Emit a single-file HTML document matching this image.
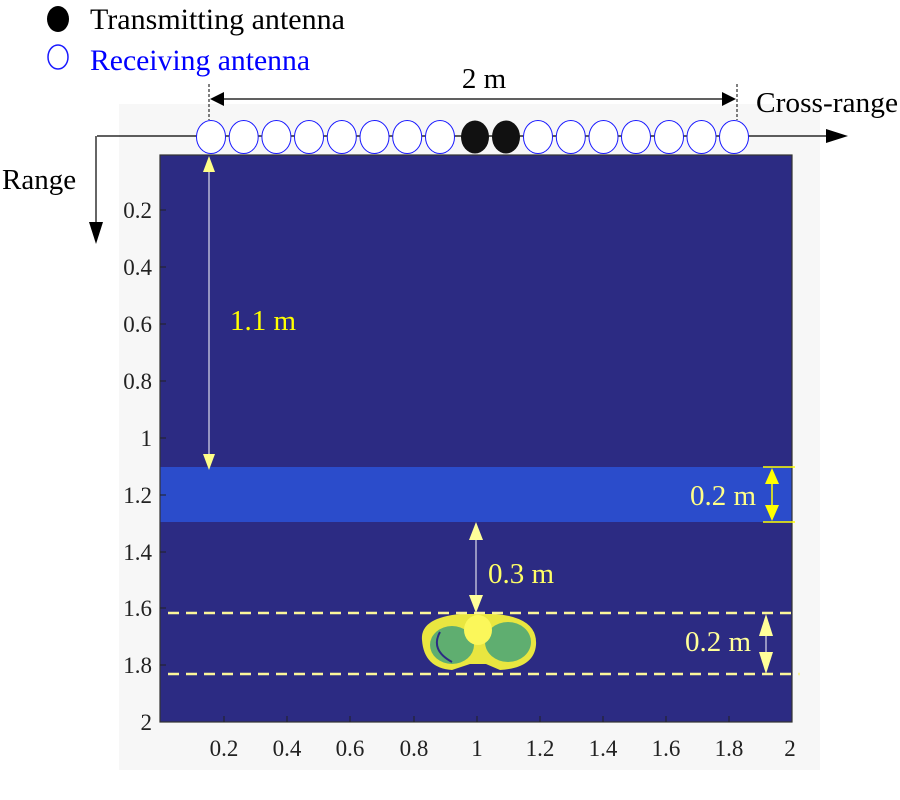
<!DOCTYPE html>
<html><head><meta charset="utf-8"><style>
html,body{margin:0;padding:0;background:#fff;}
svg{display:block;font-family:"Liberation Serif",serif;}
</style></head><body>
<svg width="900" height="800" viewBox="0 0 900 800">
<rect x="119" y="104" width="701" height="666" fill="#f7f7f7"/>
<rect x="160" y="155" width="632" height="567" fill="#2c2b83"/>
<rect x="160" y="467" width="632" height="55" fill="#2b4ccb"/>
<rect x="160" y="155" width="632" height="567" fill="none" stroke="#333" stroke-width="1.2"/>
<g stroke="#222" stroke-width="1">
<line x1="224" y1="722" x2="224" y2="716"/><line x1="287" y1="722" x2="287" y2="716"/><line x1="350" y1="722" x2="350" y2="716"/><line x1="414" y1="722" x2="414" y2="716"/><line x1="477" y1="722" x2="477" y2="716"/><line x1="540" y1="722" x2="540" y2="716"/><line x1="603" y1="722" x2="603" y2="716"/><line x1="666" y1="722" x2="666" y2="716"/><line x1="729" y1="722" x2="729" y2="716"/>
<line x1="160" y1="210" x2="166" y2="210"/><line x1="160" y1="267" x2="166" y2="267"/><line x1="160" y1="324" x2="166" y2="324"/><line x1="160" y1="381" x2="166" y2="381"/><line x1="160" y1="438" x2="166" y2="438"/><line x1="160" y1="495" x2="166" y2="495"/><line x1="160" y1="552" x2="166" y2="552"/><line x1="160" y1="608" x2="166" y2="608"/><line x1="160" y1="665" x2="166" y2="665"/>
</g>
<g font-size="23" fill="#222" text-anchor="middle">
<text x="224" y="756">0.2</text><text x="287" y="756">0.4</text><text x="350" y="756">0.6</text><text x="414" y="756">0.8</text><text x="477" y="756">1</text><text x="540" y="756">1.2</text><text x="603" y="756">1.4</text><text x="666" y="756">1.6</text><text x="729" y="756">1.8</text><text x="790" y="756">2</text>
</g>
<g font-size="23" fill="#222" text-anchor="end">
<text x="152" y="218">0.2</text><text x="152" y="275">0.4</text><text x="152" y="332">0.6</text><text x="152" y="389">0.8</text><text x="152" y="446">1</text><text x="152" y="503">1.2</text><text x="152" y="560">1.4</text><text x="152" y="616">1.6</text><text x="152" y="673">1.8</text><text x="152" y="730">2</text>
</g>
<!-- body -->
<path d="M422 640 Q420 618 460 614 L496 614 Q538 618 536 645 Q534 668 500 670 L486 664 L470 664 L452 670 Q424 668 422 640 Z" fill="#e9e640"/>
<ellipse cx="452" cy="645" rx="22" ry="19" fill="#5fae70"/>
<ellipse cx="508" cy="642" rx="23" ry="20" fill="#5fae70"/>
<path d="M440 632 Q430 650 452 662" stroke="#2c2b83" stroke-width="2" fill="none"/>
<ellipse cx="478" cy="630" rx="14" ry="15" fill="#fbf75a"/>
<g stroke="#fbf59a" stroke-width="2.5" stroke-dasharray="11,7">
<line x1="168" y1="613" x2="792" y2="613"/><line x1="168" y1="674" x2="800" y2="674"/>
</g>
<line x1="97" y1="136" x2="830" y2="136" stroke="#000" stroke-width="1.2"/>
<polygon points="848,136 826,129 826,143" fill="#000"/>
<line x1="96" y1="136" x2="96" y2="225" stroke="#000" stroke-width="1.2"/>
<polygon points="96,244 89,222 103,222" fill="#000"/>
<text x="2" y="189" font-size="29" fill="#000">Range</text>
<text x="756" y="112" font-size="29" fill="#000" textLength="142" lengthAdjust="spacingAndGlyphs">Cross-range</text>
<line x1="209" y1="84" x2="209" y2="120" stroke="#000" stroke-dasharray="3,2"/>
<line x1="737" y1="84" x2="737" y2="120" stroke="#000" stroke-dasharray="3,2"/>
<line x1="215" y1="99" x2="730" y2="99" stroke="#000" stroke-width="1.2"/>
<polygon points="210,99 224,92 224,106" fill="#000"/><polygon points="736,99 722,92 722,106" fill="#000"/>
<text x="484" y="88" font-size="29" text-anchor="middle" fill="#000">2 m</text>
<g stroke="#1a1aff" stroke-width="1" fill="#fff">
<ellipse cx="211" cy="137" rx="14.5" ry="16.5"/><ellipse cx="243.7" cy="137" rx="14.5" ry="16.5"/><ellipse cx="276.4" cy="137" rx="14.5" ry="16.5"/><ellipse cx="309" cy="137" rx="14.5" ry="16.5"/><ellipse cx="341.8" cy="137" rx="14.5" ry="16.5"/><ellipse cx="374.5" cy="137" rx="14.5" ry="16.5"/><ellipse cx="407.2" cy="137" rx="14.5" ry="16.5"/><ellipse cx="440" cy="137" rx="14.5" ry="16.5"/>
<ellipse cx="538" cy="137" rx="14.5" ry="16.5"/><ellipse cx="570.8" cy="137" rx="14.5" ry="16.5"/><ellipse cx="603.5" cy="137" rx="14.5" ry="16.5"/><ellipse cx="636" cy="137" rx="14.5" ry="16.5"/><ellipse cx="669" cy="137" rx="14.5" ry="16.5"/><ellipse cx="701.5" cy="137" rx="14.5" ry="16.5"/><ellipse cx="734" cy="137" rx="14.5" ry="16.5"/>
</g>
<ellipse cx="475" cy="137" rx="14" ry="16.5" fill="#111"/><ellipse cx="506" cy="137" rx="14" ry="16.5" fill="#111"/>
<ellipse cx="58" cy="19" rx="11" ry="13" fill="#000"/>
<text x="90" y="29" font-size="30" fill="#000" textLength="255" lengthAdjust="spacingAndGlyphs">Transmitting antenna</text>
<ellipse cx="58" cy="57" rx="10" ry="12" fill="#fff" stroke="#1a1aff" stroke-width="1.5"/>
<text x="90" y="70" font-size="30" fill="#0000ff" textLength="220" lengthAdjust="spacingAndGlyphs">Receiving antenna</text>
<line x1="209" y1="165" x2="209" y2="455" stroke="#fff" stroke-width="1"/>
<polygon points="209,156 203,172 215,172" fill="#ffff88"/><polygon points="209,470 203,454 215,454" fill="#ffff88"/>
<text x="230" y="330" font-size="29" fill="#ffff00">1.1 m</text>
<line x1="763" y1="467" x2="795" y2="467" stroke="#ffff00" stroke-width="1.5"/><line x1="763" y1="522" x2="795" y2="522" stroke="#ffff00" stroke-width="1.5"/>
<line x1="772" y1="470" x2="772" y2="519" stroke="#ffff00" stroke-width="1.5"/>
<polygon points="772,468 765,484 779,484" fill="#ffff00"/><polygon points="772,521 765,505 779,505" fill="#ffff00"/>
<text x="690" y="505" font-size="29" fill="#ffff88">0.2 m</text>
<line x1="476" y1="525" x2="476" y2="610" stroke="#fff" stroke-width="1"/>
<polygon points="476,522 469,540 483,540" fill="#ffff99"/><polygon points="476,613 469,595 483,595" fill="#ffff99"/>
<text x="488" y="583" font-size="29" fill="#ffff66">0.3 m</text>
<line x1="766" y1="616" x2="766" y2="672" stroke="#fff" stroke-width="1"/>
<polygon points="766,614 759,636 773,636" fill="#ffff99"/><polygon points="766,674 759,652 773,652" fill="#ffff99"/>
<text x="685" y="651" font-size="29" fill="#ffff99">0.2 m</text>
</svg>
</body></html>
